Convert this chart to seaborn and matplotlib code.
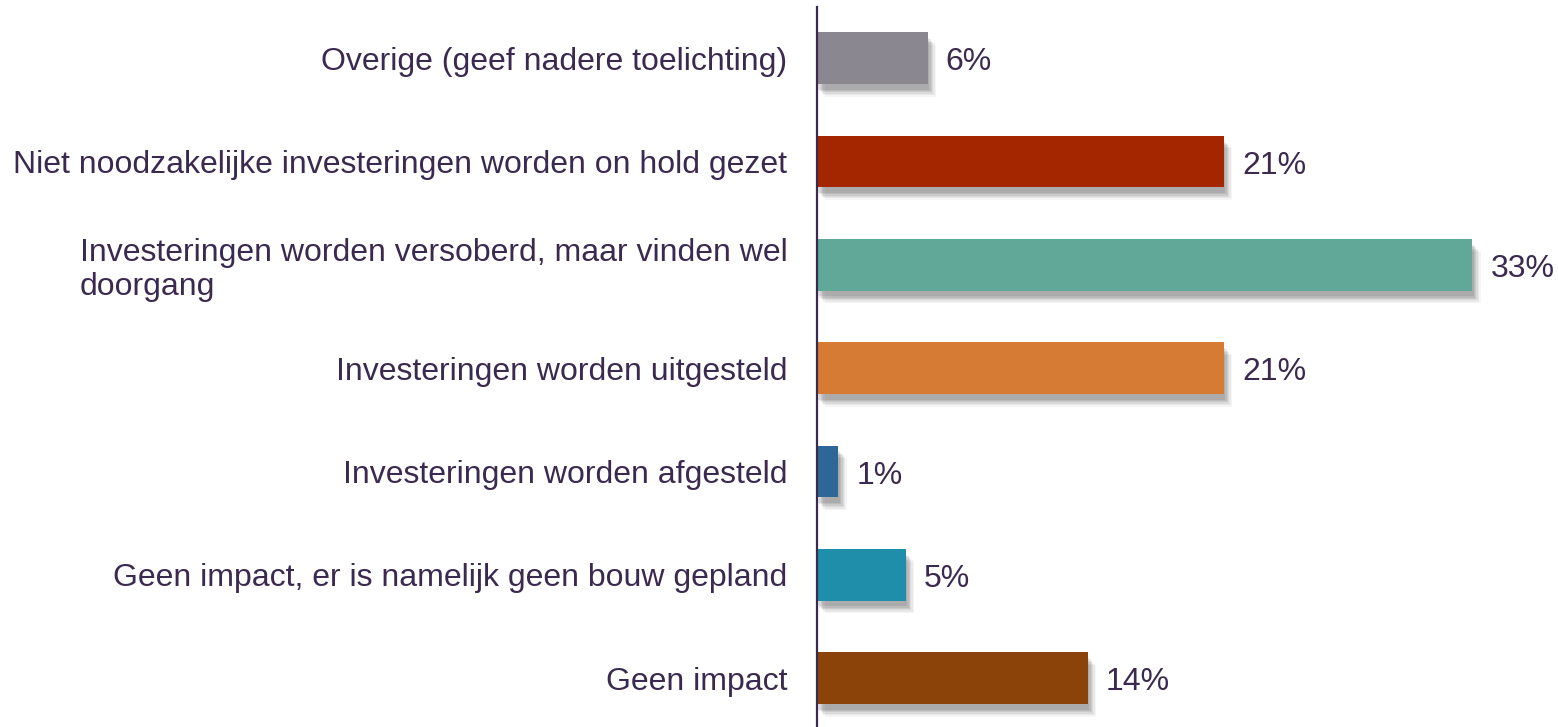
import matplotlib
matplotlib.use("Agg")
import matplotlib.pyplot as plt
import matplotlib.patheffects as pe
import seaborn as sns
import pandas as pd

categories = [
    "Overige (geef nadere toelichting)",
    "Niet noodzakelijke investeringen worden on hold gezet",
    "Investeringen worden versoberd, maar vinden wel\ndoorgang",
    "Investeringen worden uitgesteld",
    "Investeringen worden afgesteld",
    "Geen impact, er is namelijk geen bouw gepland",
    "Geen impact",
]
values = [5.6, 20.5, 33.0, 20.5, 1.1, 4.5, 13.65]
value_labels = ["6%", "21%", "33%", "21%", "1%", "5%", "14%"]
colors = ["#8A8791", "#A32600", "#62A898", "#D67B34", "#2E6698", "#1E8EAB", "#8B4309"]

TEXT = "#3B2A4F"
FS = 23

sns.set_theme(style="white")
plt.rcParams["font.family"] = ["Liberation Sans", "DejaVu Sans"]

fig = plt.figure(figsize=(15.58, 7.27), dpi=100)
ax = fig.add_axes([816.5 / 1558, -0.004, 1 - 816.5 / 1558 - 0.004, 0.995])

df = pd.DataFrame({"cat": categories, "val": values})
sns.barplot(data=df, x="val", y="cat", hue="cat", palette=colors, legend=False,
            orient="h", width=0.5, ax=ax, saturation=1, linewidth=0)

shadow = []
for dx, dy, a in [(6, -9, 0.04), (5, -8, 0.05), (4, -7, 0.06), (3, -6, 0.07),
                  (2, -5, 0.08), (1, -4, 0.08)]:
    shadow.append(pe.SimplePatchShadow(offset=(dx, dy), shadow_rgbFace="#000000", alpha=a))
shadow.append(pe.Normal())
for bar in ax.patches:
    bar.set_edgecolor("none")
    bar.set_path_effects(shadow)

for i, (v, lab) in enumerate(zip(values, value_labels)):
    ax.annotate(lab, xy=(v, i), xytext=(13, -3), textcoords="offset points",
                ha="left", va="center", fontsize=FS, color=TEXT)

ax.set_xlim(0, 37)
ax.set_ylim(6.5, -0.5)
ax.set_xlabel("")
ax.set_ylabel("")
ax.set_xticks([])
ax.tick_params(axis="y", length=0, pad=21, labelsize=FS, labelcolor=TEXT)
for t in ax.get_yticklabels():
    t.set_multialignment("left")
    t.set_linespacing(1.15)

for s in ["top", "right", "bottom"]:
    ax.spines[s].set_visible(False)
ax.spines["left"].set_color(TEXT)
ax.spines["left"].set_linewidth(1.6)

fig.savefig("out.png", dpi=100, facecolor="white")
